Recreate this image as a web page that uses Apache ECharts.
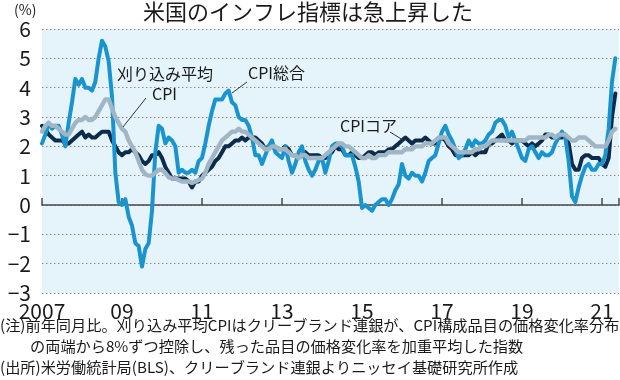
<!DOCTYPE html>
<html><head><meta charset="utf-8">
<script src="https://cdn.jsdelivr.net/npm/echarts@6/dist/echarts.min.js"></script>
<style>html,body{margin:0;padding:0;background:#fff}#c{width:620px;height:380px}</style>
</head><body><div id="c"></div>
<script>
// Monthly YoY %, Jan 2007 - May 2021
const startYear = 2007;
const headlineCPI = [
 2.1,2.4,2.8,2.6,2.7,2.7,2.4,2.0,2.8,3.5,4.3,4.1,
 4.3,4.0,4.0,3.9,4.2,5.0,5.6,5.4,4.9,3.7,1.1,0.1,
 0.0,0.2,-0.4,-0.7,-1.3,-1.4,-2.1,-1.5,-1.3,-0.2,1.8,2.7,
 2.6,2.1,2.3,2.2,2.0,1.1,1.2,1.1,1.1,1.2,1.1,1.5,
 1.6,2.1,2.7,3.2,3.6,3.6,3.6,3.8,3.9,3.5,3.4,3.0,
 2.9,2.9,2.7,2.3,1.7,1.7,1.4,1.7,2.0,2.2,1.8,1.7,
 1.6,2.0,1.5,1.1,1.4,1.8,2.0,1.5,1.2,1.0,1.2,1.5,
 1.6,1.1,1.5,2.0,2.1,2.1,2.0,1.7,1.7,1.7,1.3,0.8,
 -0.1,0.0,-0.1,-0.2,0.0,0.1,0.2,0.2,0.0,0.2,0.5,0.7,
 1.4,1.0,0.9,1.1,1.0,1.0,0.8,1.1,1.5,1.6,1.7,2.1,
 2.5,2.7,2.4,2.2,1.9,1.6,1.7,1.9,2.2,2.0,2.2,2.1,
 2.1,2.2,2.4,2.5,2.8,2.9,2.9,2.7,2.3,2.5,2.2,1.9,
 1.6,1.5,1.9,2.0,1.8,1.6,1.8,1.7,1.7,1.8,2.1,2.3,
 2.5,2.3,1.5,0.3,0.1,0.6,1.0,1.3,1.4,1.2,1.2,1.4,
 1.4,1.7,2.6,4.2,5.0
];
const coreCPI = [
 2.7,2.6,2.4,2.3,2.2,2.2,2.2,2.1,2.1,2.2,2.3,2.4,
 2.5,2.3,2.4,2.3,2.3,2.4,2.5,2.5,2.5,2.2,2.0,1.8,
 1.7,1.8,1.8,1.9,1.8,1.7,1.5,1.4,1.5,1.7,1.7,1.8,
 1.6,1.3,1.1,0.9,0.9,0.9,0.9,0.9,0.8,0.6,0.8,0.8,
 1.0,1.1,1.2,1.3,1.5,1.6,1.8,2.0,2.0,2.1,2.2,2.2,
 2.3,2.2,2.3,2.3,2.3,2.2,2.1,1.9,2.0,2.0,1.9,1.9,
 1.9,2.0,1.9,1.7,1.7,1.6,1.7,1.8,1.7,1.7,1.7,1.7,
 1.6,1.6,1.7,1.8,2.0,1.9,1.9,1.7,1.7,1.8,1.7,1.6,
 1.6,1.7,1.8,1.8,1.7,1.8,1.8,1.8,1.9,1.9,2.0,2.1,
 2.2,2.3,2.2,2.1,2.2,2.2,2.2,2.3,2.2,2.1,2.1,2.2,
 2.3,2.2,2.0,1.9,1.7,1.7,1.7,1.7,1.7,1.8,1.7,1.8,
 1.8,1.8,2.1,2.1,2.2,2.3,2.4,2.2,2.2,2.1,2.2,2.2,
 2.2,2.1,2.0,2.1,2.0,2.1,2.2,2.4,2.4,2.3,2.3,2.3,
 2.3,2.4,2.1,1.4,1.2,1.2,1.6,1.7,1.7,1.6,1.6,1.6,
 1.4,1.3,1.6,3.0,3.8
];
const trimmedMeanCPI = [
 2.5,2.7,2.8,2.7,2.7,2.6,2.5,2.4,2.4,2.6,2.8,2.9,
 2.9,3.0,2.9,2.9,3.0,3.2,3.4,3.6,3.6,3.3,3.0,2.8,
 2.6,2.5,2.2,2.0,1.8,1.5,1.2,1.05,1.0,1.0,1.1,1.2,
 1.2,1.1,0.95,0.9,0.9,0.85,0.8,0.8,0.8,0.75,0.8,0.85,
 0.9,1.1,1.4,1.6,1.8,2.0,2.2,2.3,2.4,2.5,2.5,2.6,
 2.5,2.5,2.4,2.3,2.2,2.1,2.0,1.9,1.9,2.0,2.0,1.9,
 1.9,1.9,1.8,1.7,1.7,1.6,1.7,1.7,1.6,1.6,1.6,1.6,
 1.6,1.7,1.8,1.9,2.0,2.1,2.1,2.0,2.0,1.9,1.8,1.7,
 1.6,1.6,1.7,1.6,1.6,1.7,1.7,1.7,1.8,1.8,1.8,1.8,
 1.8,1.9,1.9,1.9,2.0,2.0,2.0,2.1,2.1,2.1,2.2,2.3,
 2.3,2.3,2.1,2.0,1.9,1.8,1.8,1.8,1.8,1.8,1.9,1.9,
 2.0,2.0,2.1,2.2,2.2,2.2,2.2,2.2,2.2,2.2,2.2,2.2,
 2.2,2.2,2.3,2.3,2.3,2.3,2.3,2.3,2.4,2.4,2.3,2.4,
 2.4,2.4,2.3,2.2,2.2,2.3,2.3,2.3,2.2,2.1,2.0,2.0,
 2.0,2.0,2.2,2.5,2.6
];
const yTicks = [-3,-2,-1,0,1,2,3,4,5,6];
const xTickLabels = ['2007','09','11','13','15','17','19','21'];

const FONT = '"Noto Sans CJK JP", "Noto Sans", sans-serif';
const toXY = arr => arr.map((v, i) => [i / 12, v]);

const chart = echarts.init(document.getElementById('c'), null, {renderer: 'canvas'});
const lineStyleBase = {cap: 'round', join: 'round'};
const NOTE_FONT = '15.2px ' + FONT;
chart.setOption({
  animation: false,
  textStyle: {fontFamily: FONT},
  grid: {left: 42, right: 1, top: 29, bottom: 87, show: true, backgroundColor: '#e5f3fb', borderWidth: 0},
  xAxis: [{
    type: 'value', min: 0, max: 14.425, interval: 2, position: 'bottom',
    axisLine: {show: false, onZero: false}, axisTick: {show: false}, splitLine: {show: false},
    axisLabel: {margin: 8, fontSize: 21, color: '#1a1a1a', fontFamily: FONT,
      formatter: v => xTickLabels[Math.round(v / 2)] || ''}
  }, {
    type: 'value', min: 0, max: 14.425, interval: 2, position: 'bottom',
    axisLine: {show: true, onZero: true, lineStyle: {color: '#4a4a4a', width: 1.5}},
    axisTick: {show: true, inside: true, length: 7, lineStyle: {color: '#4a4a4a', width: 1.5}},
    axisLabel: {show: false}, splitLine: {show: false}
  }],
  yAxis: {
    type: 'value', min: yTicks[0], max: yTicks[yTicks.length - 1], interval: 1,
    axisLine: {show: false}, axisTick: {show: false},
    axisLabel: {margin: 11, fontSize: 21, color: '#1a1a1a', fontFamily: FONT,
      formatter: v => (v < 0 ? '\u2212' + Math.abs(v) : String(v))},
    splitLine: {show: true, lineStyle: {type: [1.5, 2.5], color: '#8c8c8c', width: 1}}
  },
  series: [
    {name: 'CPIコア', type: 'line', xAxisIndex: 0, data: toXY(coreCPI), showSymbol: false,
     lineStyle: Object.assign({color: '#0d2b4a', width: 4}, lineStyleBase), z: 3},
    {name: 'CPI総合', type: 'line', xAxisIndex: 0, data: toXY(headlineCPI), showSymbol: false,
     lineStyle: Object.assign({color: '#1a94cf', width: 4}, lineStyleBase), z: 4},
    {name: '刈り込み平均CPI', type: 'line', xAxisIndex: 0, data: toXY(trimmedMeanCPI), showSymbol: false,
     lineStyle: Object.assign({color: '#a0b6c5', width: 4.4}, lineStyleBase), z: 5}
  ],
  graphic: [
    {type: 'text', left: 143, top: 1, style: {text: '米国のインフレ指標は急上昇した', font: '22px ' + FONT, fill: '#1a1a1a'}},
    {type: 'text', left: 14, top: 3, style: {text: '(%)', font: '14px ' + FONT, fill: '#1a1a1a'}},
    {type: 'text', left: 117, top: 66, style: {text: '刈り込み平均', font: '16px ' + FONT, fill: '#1a1a1a'}},
    {type: 'text', left: 152, top: 86, style: {text: 'CPI', font: '16px ' + FONT, fill: '#1a1a1a'}},
    {type: 'line', shape: {x1: 146, y1: 98, x2: 123, y2: 127}, style: {stroke: '#333', lineWidth: 1}, z: 10},
    {type: 'text', left: 248, top: 65, style: {text: 'CPI総合', font: '16px ' + FONT, fill: '#1a1a1a'}},
    {type: 'line', shape: {x1: 247, y1: 82, x2: 232, y2: 93}, style: {stroke: '#333', lineWidth: 1}, z: 10},
    {type: 'text', left: 340, top: 118, style: {text: 'CPIコア', font: '16px ' + FONT, fill: '#1a1a1a'}},
    {type: 'line', shape: {x1: 390, y1: 132, x2: 403, y2: 140}, style: {stroke: '#333', lineWidth: 1}, z: 10},
    {type: 'text', left: 0, top: 318, style: {text: '(注)前年同月比。刈り込み平均CPIはクリーブランド連銀が、CPI構成品目の価格変化率分布', font: NOTE_FONT, fill: '#1a1a1a'}},
    {type: 'text', left: 30, top: 339, style: {text: 'の両端から8%ずつ控除し、残った品目の価格変化率を加重平均した指数', font: NOTE_FONT, fill: '#1a1a1a'}},
    {type: 'text', left: 0, top: 360, style: {text: '(出所)米労働統計局(BLS)、クリーブランド連銀よりニッセイ基礎研究所作成', font: NOTE_FONT, fill: '#1a1a1a'}}
  ]
});
</script></body></html>
